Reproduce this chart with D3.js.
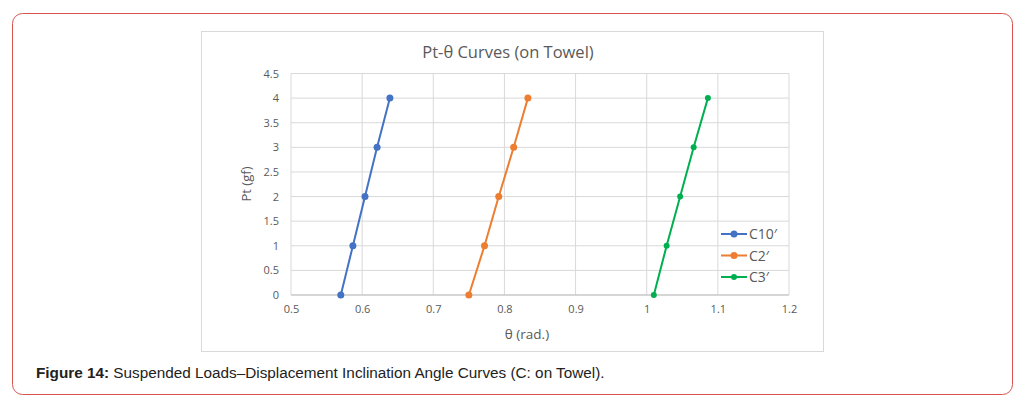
<!DOCTYPE html>
<html><head><meta charset="utf-8">
<script src="https://cdn.jsdelivr.net/npm/d3@7"></script>
<style>body{margin:0;background:#fff;}svg{display:block;}</style>
</head><body><svg id="c" width="1026" height="412"></svg>
<script>
const pt = [0, 1, 2, 3, 4];
const c10 = [0.570, 0.587, 0.604, 0.621, 0.639];
const c2 = [0.750, 0.772, 0.792, 0.813, 0.833];
const c3 = [1.010, 1.028, 1.047, 1.066, 1.086];
const seriesNames = ["C10\u2032", "C2\u2032", "C3\u2032"];
const seriesColors = ["#4472c4", "#ed7d31", "#00b050"];
const xTicks = [0.5, 0.6, 0.7, 0.8, 0.9, 1, 1.1, 1.2];
const yTicks = [0, 0.5, 1, 1.5, 2, 2.5, 3, 3.5, 4, 4.5];

const svg = d3.select("#c");
svg.append("rect").attr("x", 12.5).attr("y", 13.5).attr("width", 1000).attr("height", 381)
  .attr("rx", 10).attr("fill", "#fff").attr("stroke", "#d9534f").attr("stroke-width", 1);
svg.append("rect").attr("x", 201.5).attr("y", 31.5).attr("width", 622).attr("height", 320)
  .attr("fill", "#fff").attr("stroke", "#d9d9d9");

const x = d3.scaleLinear().domain([0.5, 1.2]).range([291, 789]);
const y = d3.scaleLinear().domain([0, 4.5]).range([295, 73.5]);
const font = "'Open Sans', sans-serif";
const g = svg.append("g");
g.selectAll(".vg").data(xTicks).join("line").attr("x1", d => x(d)).attr("x2", d => x(d))
  .attr("y1", y(0)).attr("y2", y(4.5)).attr("stroke", "#d9d9d9");
g.selectAll(".hg").data(yTicks).join("line").attr("x1", x(0.5)).attr("x2", x(1.2))
  .attr("y1", d => y(d)).attr("y2", d => y(d)).attr("stroke", "#d9d9d9");
g.append("line").attr("x1", x(0.5)).attr("x2", x(1.2)).attr("y1", y(0)).attr("y2", y(0)).attr("stroke", "#bfbfbf");

const xa = g.append("g").attr("transform", `translate(0,${y(0)})`)
  .call(d3.axisBottom(x).tickValues(xTicks).tickSize(0).tickPadding(10).tickFormat(d3.format("")));
const ya = g.append("g").attr("transform", `translate(${x(0.5)},0)`)
  .call(d3.axisLeft(y).tickValues(yTicks).tickSize(0).tickPadding(12).tickFormat(d3.format("")));
[xa, ya].forEach(a => { a.select(".domain").remove();
  a.selectAll("text").attr("fill", "#595959").style("font-family", font).style("font-size", "11px"); });

svg.append("text").attr("x", 508).attr("y", 58).attr("text-anchor", "middle").attr("fill", "#595959")
  .style("font-family", font).style("font-size", "16.5px").text("Pt-\u03b8 Curves (on Towel)");
svg.append("text").attr("x", 527).attr("y", 339).attr("text-anchor", "middle").attr("fill", "#595959")
  .style("font-family", font).style("font-size", "13.5px").text("\u03b8 (rad.)");
svg.append("text").attr("transform", "translate(251,184) rotate(-90)").attr("text-anchor", "middle").attr("fill", "#595959")
  .style("font-family", font).style("font-size", "13px").text("Pt (gf)");

const all = [c10, c2, c3];
const radii = [3.5, 3.5, 3];
const line = d3.line().x(d => x(d[0])).y(d => y(d[1]));
all.forEach((s, i) => {
  const pts = s.map((v, j) => [v, pt[j]]);
  g.append("path").datum(pts).attr("d", line).attr("fill", "none").attr("stroke", seriesColors[i]).attr("stroke-width", 2);
  g.selectAll(null).data(pts).join("circle").attr("cx", d => x(d[0])).attr("cy", d => y(d[1]))
    .attr("r", radii[i]).attr("fill", seriesColors[i]);
});
const lg = svg.append("g");
seriesNames.forEach((n, i) => {
  const yy = 234 + i * 21.5;
  lg.append("line").attr("x1", 721).attr("x2", 747).attr("y1", yy).attr("y2", yy).attr("stroke", seriesColors[i]).attr("stroke-width", 2);
  lg.append("circle").attr("cx", 734).attr("cy", yy).attr("r", radii[i]).attr("fill", seriesColors[i]);
  lg.append("text").attr("x", 749).attr("y", yy + 5).attr("fill", "#595959").style("font-family", font).style("font-size", "14px").text(n);
});
const cap = svg.append("text").attr("x", 36).attr("y", 378).style("font-family", "'Liberation Sans', Arial, sans-serif").style("font-size", "15.3px").attr("fill", "#222");
cap.append("tspan").attr("font-weight", "bold").text("Figure 14:");
cap.append("tspan").text(" Suspended Loads\u2013Displacement Inclination Angle Curves (C: on Towel).");
</script></body></html>
